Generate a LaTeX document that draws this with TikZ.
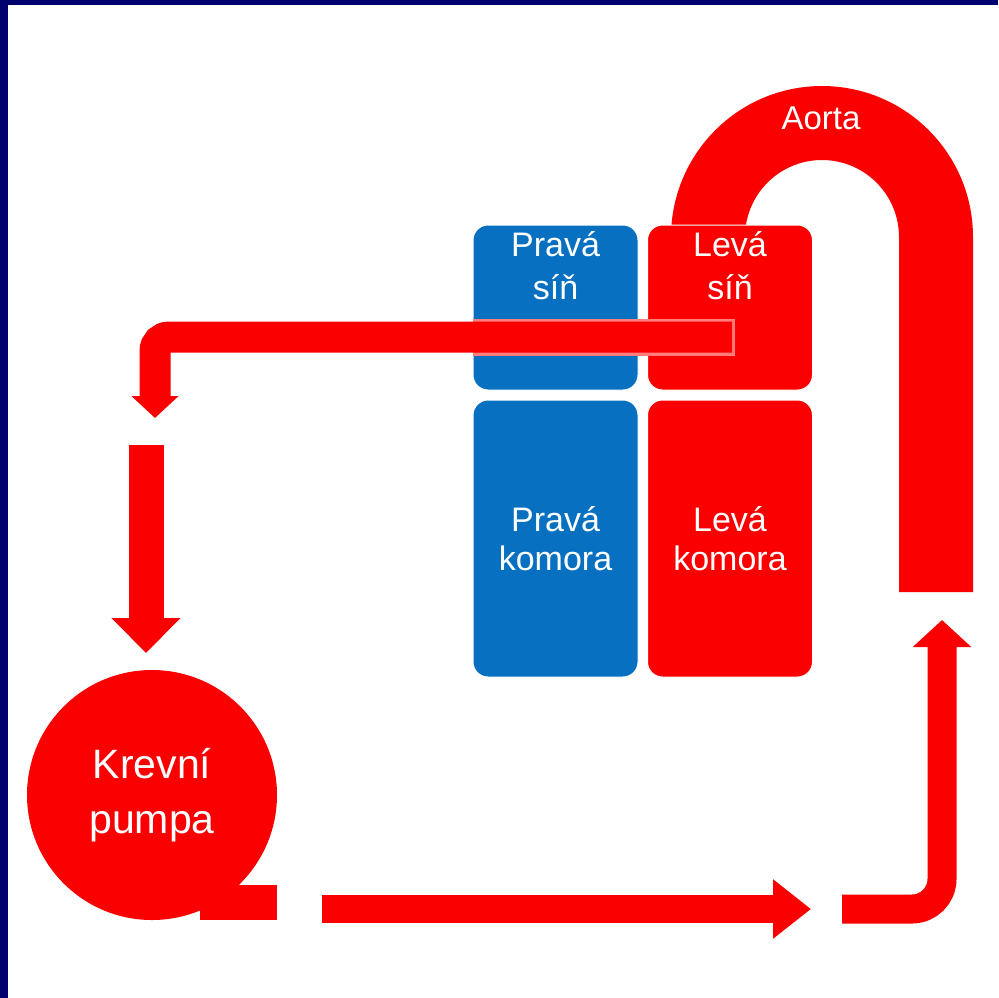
\documentclass[tikz,border=0pt]{standalone}
\usepackage{fontspec}
\setmainfont{Liberation Sans}
\usetikzlibrary{arrows.meta}
\definecolor{navy}{RGB}{0,0,110}
\definecolor{bloodred}{RGB}{250,0,0}
\definecolor{veinblue}{RGB}{8,112,192}
\definecolor{edgepink}{RGB}{255,125,125}

\begin{document}
\begin{tikzpicture}[x=1pt,y=-1pt,
                chamber/.style={rectangle,rounded corners=15pt,draw=white,line width=1pt,minimum width=165pt,text=white,align=center,font=\fontsize{34}{39}\selectfont},
                chambertext/.style={text=white,align=center,font=\fontsize{34}{43}\selectfont},
                flow/.style={bloodred,line width=31pt}
                ]
            \useasboundingbox (0,0) rectangle (998,998);
            \fill[white] (0,0) rectangle (998,998);
            \fill[navy] (0,0) rectangle (998,5);
            \fill[navy] (0,0) rectangle (8,998);

            \coordinate (aortaroot) at (708,245);
            \coordinate (aortaend) at (936,592);
            \draw[bloodred,line width=74pt] (aortaroot) -- (708,237) arc[start angle=180,end angle=360,radius=114] -- (aortaend);
            \node[chambertext,font=\fontsize{33}{39}\selectfont] (aorta) at (821,118) {Aorta};

            \node[chamber,fill=veinblue,minimum height=165pt,label={[chambertext,anchor=north,label distance=-3pt]90:Pravá\\síň}] (pravasin) at (555.5,307.5) {};
            \node[chamber,fill=bloodred,minimum height=165pt,label={[chambertext,anchor=north,label distance=-3pt]90:Levá\\síň}] (levasin) at (730,307.5) {};
            \node[chamber,fill=veinblue,minimum height=277pt] (pravakomora) at (555.5,538.5) {Pravá\\komora};
            \node[chamber,fill=bloodred,minimum height=277pt] (levakomora) at (730,538.5) {Levá\\komora};

            \node[circle,fill=bloodred,minimum size=250pt,text=white,align=center,font=\fontsize{41}{55}\selectfont] (pumpa) at (152,795) {Krevní\\pumpa};
            \fill[bloodred] (200,885) rectangle (277,920);

            \coordinate (vein) at (732,337);
            \coordinate (veindown) at (155,418);
            \coordinate (tubetop) at (146,445);
            \coordinate (tubebottom) at (146,653);
            \coordinate (outflow) at (322,909);
            \coordinate (outflowend) at (811,909);
            \coordinate (returnstart) at (842,909);
            \coordinate (returnend) at (942,620);

            \draw[edgepink,line width=37pt] (735,337) -- (473,337);
            \draw[flow,rounded corners=14pt,-{Triangle[length=22pt,width=46pt]}] (vein) -| (veindown);
            \draw[flow,line width=35pt,-{Triangle[length=35pt,width=67pt]}] (tubetop) -- (tubebottom);
            \draw[flow,line width=28pt,-{Triangle[length=38pt,width=57pt]}] (outflow) -- (outflowend);
            \draw[flow,line width=29pt,rounded corners=30pt,-{Triangle[length=27pt,width=57pt]}] (returnstart) -| (returnend);

            \end{tikzpicture}
\end{document}
